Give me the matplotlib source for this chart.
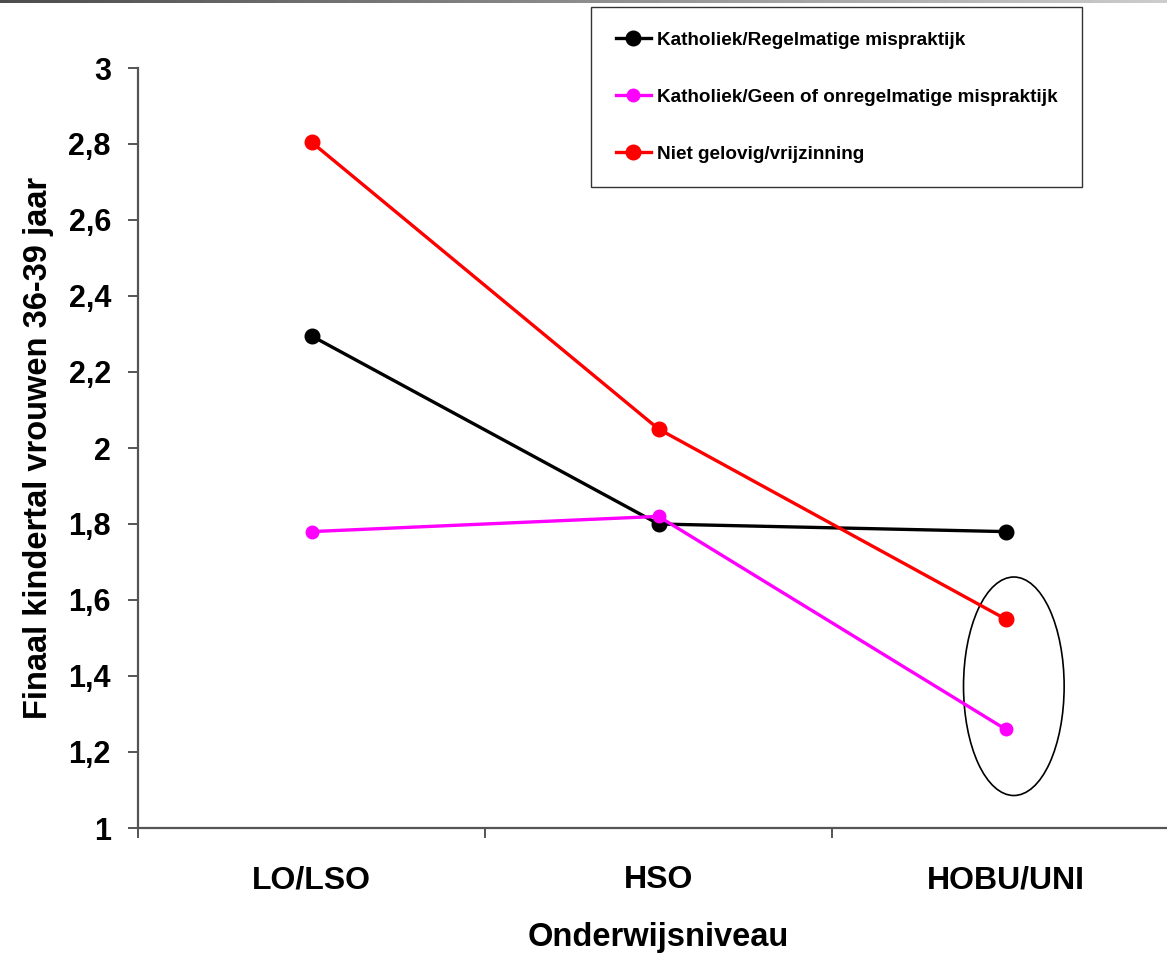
import numpy as np
import matplotlib.pyplot as plt
from matplotlib.patches import Ellipse

plt.rcParams['font.family'] = ['Liberation Sans', 'DejaVu Sans']
plt.rcParams['font.weight'] = 'bold'

# data
niveaus = ['LO/LSO', 'HSO', 'HOBU/UNI']
kath_regelmatig = [2.295, 1.80, 1.78]
kath_geen = [1.78, 1.82, 1.26]
niet_gelovig = [2.805, 2.05, 1.55]
y_ticks = [1, 1.2, 1.4, 1.6, 1.8, 2, 2.2, 2.4, 2.6, 2.8, 3]

fig = plt.figure(figsize=(11.67, 9.56), dpi=100)
ax = fig.add_axes([138/1167, 1-828/956, 1041/1167, 760/956])

x = np.arange(len(niveaus)) + 0.5
ax.plot(x, kath_regelmatig, color='black', lw=2.4, marker='o', ms=10.5,
        label='Katholiek/Regelmatige mispraktijk')
ax.plot(x, kath_geen, color='#ff00ff', lw=2.4, marker='o', ms=9,
        label='Katholiek/Geen of onregelmatige mispraktijk')
ax.plot(x, niet_gelovig, color='#ff0000', lw=2.4, marker='o', ms=10.5,
        label='Niet gelovig/vrijzinning')

# ring round the highest education level
ax.add_patch(Ellipse((x[2] + 0.024, 1.373), 0.29, 0.575, fill=False,
                     ec='black', lw=1.2))

ax.set_xlim(0, 3)
ax.set_ylim(1, 3)
ax.set_yticks(y_ticks)
ax.set_yticklabels([('%g' % v).replace('.', ',') for v in y_ticks])
ax.set_xticks([0, 1, 2, 3])
ax.set_xticklabels([])
ax.set_xticks(x, minor=True)
ax.set_xticklabels(niveaus, minor=True)

for s in ['top', 'right']:
    ax.spines[s].set_visible(False)
for s in ['left', 'bottom']:
    ax.spines[s].set_color('#555555')
    ax.spines[s].set_linewidth(1.6)

ax.tick_params(axis='y', direction='out', length=7.5, width=1.4, color='#555555',
               labelsize=22, pad=12)
ax.tick_params(axis='x', which='major', direction='out', length=7.5, width=1.4,
               color='#555555')
ax.tick_params(axis='x', which='minor', length=0, labelsize=23, pad=27)

ax.set_xlabel('Onderwijsniveau', fontsize=23.5, fontweight='bold', labelpad=19)
ax.set_ylabel('Finaal kindertal vrouwen 36-39 jaar', fontsize=23.5,
              fontweight='bold', labelpad=10)

leg = ax.legend(loc='upper left', bbox_to_anchor=(591/1167, 1-7/956),
                bbox_transform=fig.transFigure, fontsize=13.6, frameon=True,
                fancybox=False, edgecolor='black', borderpad=1.3,
                labelspacing=2.1, handlelength=1.85, handletextpad=0.33,
                borderaxespad=0)
leg.get_frame().set_linewidth(1.0)

# grey bar along the top edge
bar = fig.add_axes([0, 1-3/956, 1, 3/956])
bar.imshow(np.linspace(0.3, 0.8, 256)[None, :], cmap='gray', aspect='auto',
           vmin=0, vmax=1)
bar.axis('off')

fig.savefig('out.png', dpi=100)
